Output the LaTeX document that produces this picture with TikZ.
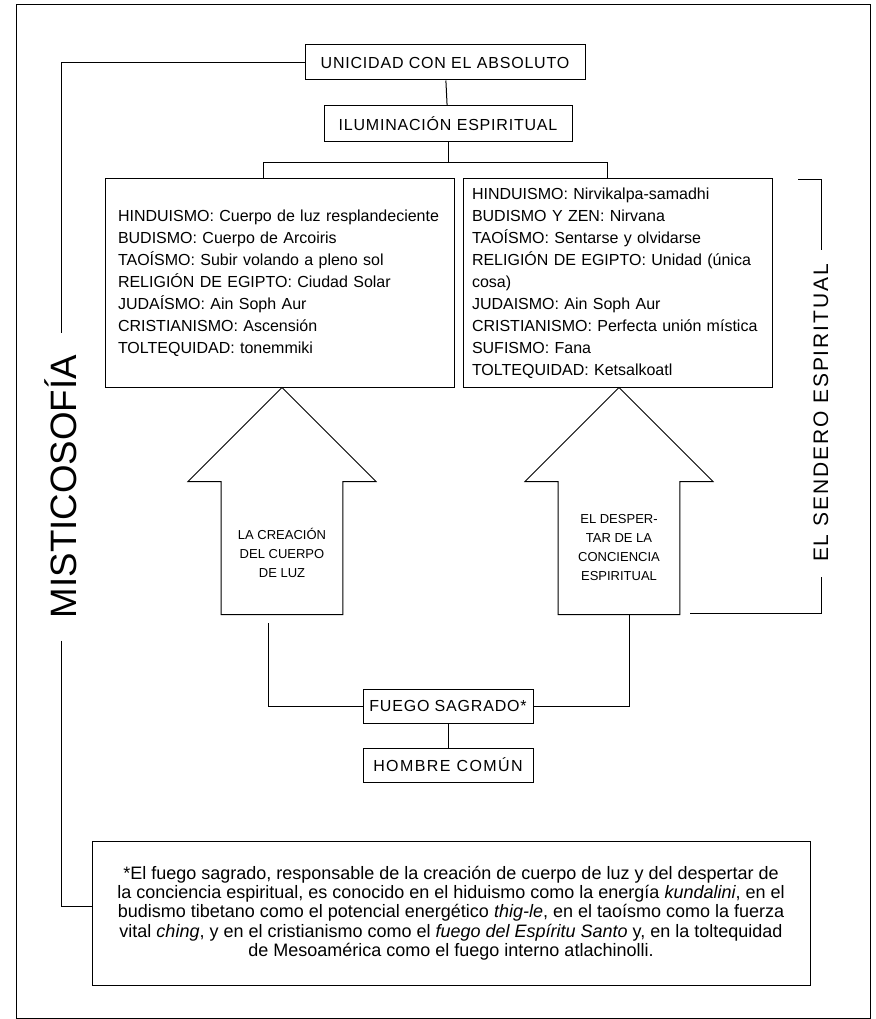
\documentclass[tikz,border=0pt]{standalone}
\usepackage{fontspec}
\setmainfont{Liberation Sans}
\newfontfamily\spacedfont[LetterSpace=5]{Liberation Sans}
\newfontfamily\widefont[LetterSpace=9]{Liberation Sans}
\usepackage{tikz}
\usetikzlibrary{shapes,arrows,positioning}

\begin{document}
\begin{tikzpicture}[x=1pt,y=-1pt,line width=1pt]
\tikzset{font={\fontsize{16}{22}\selectfont}}
\tikzset{titlebox/.style={draw,minimum height=35,inner sep=0pt,font={\spacedfont\fontsize{16}{19}\selectfont}}}
\tikzset{listbox/.style={draw,align=left,minimum height=208,inner ysep=0pt}}
\tikzset{upshape/.style={single arrow,draw,shape border rotate=90,single arrow head extend=32.5,
  minimum width=188,minimum height=227,inner sep=2pt}}
\tikzset{arrowtext/.style={align=center,inner sep=0pt,font={\fontsize{13}{19}\selectfont}}}
\tikzset{sidelabel/.style={rotate=90,inner sep=0pt}}
\useasboundingbox (0,0) rectangle (875,1019);
%Frame
\draw (16,5) rectangle (870,1018);

%Top
\node[titlebox,minimum width=280] (unidad) at (445,62.5) {UNICIDAD CON EL ABSOLUTO};
\node[titlebox,minimum width=248,minimum height=36] (ilum) at (448,124) {ILUMINACIÓN ESPIRITUAL};
\draw (unidad) -- (ilum);

%Lists
\node[listbox,minimum width=349,text width=323,inner xsep=13pt] (cuerpo) at (279.5,283) {HINDUISMO: Cuerpo de luz resplandeciente\\
BUDISMO: Cuerpo de Arcoiris\\
TAOÍSMO: Subir volando a pleno sol\\
RELIGIÓN DE EGIPTO: Ciudad Solar\\
JUDAÍSMO: Ain Soph Aur\\
CRISTIANISMO: Ascensión\\
TOLTEQUIDAD: tonemmiki};
\node[listbox,minimum width=309,text width=291,inner xsep=9pt] (union) at (617.5,283) {HINDUISMO: Nirvikalpa-samadhi\\
BUDISMO Y ZEN: Nirvana\\
TAOÍSMO: Sentarse y olvidarse\\
RELIGIÓN DE EGIPTO: Unidad (única\\
cosa)\\
JUDAISMO: Ain Soph Aur\\
CRISTIANISMO: Perfecta unión mística\\
SUFISMO: Fana\\
TOLTEQUIDAD: Ketsalkoatl};
\draw (ilum.south) -- ++(0,20) coordinate (fork);
\draw ([xshift=-16pt]cuerpo.north) |- (fork) -| ([xshift=-10pt]union.north);

%Arrows
\node[upshape,anchor=tail] (creacion) at (282,615) {\hspace*{114pt}};
\node[arrowtext] (creaciontxt) at (282,553) {LA CREACIÓN\\DEL CUERPO\\DE LUZ};
\node[upshape,anchor=tail] (despertar) at (619,615) {\hspace*{114pt}};
\node[arrowtext] (despertartxt) at (619,548) {EL DESPER-\\TAR DE LA\\CONCIENCIA\\ESPIRITUAL};

%Bottom
\node[titlebox,minimum width=170,minimum height=34] (fuego) at (448,706) {FUEGO SAGRADO*};
\node[titlebox,minimum width=170,minimum height=34,font={\widefont\fontsize{16}{19}\selectfont}] (hombre) at (448,765) {HOMBRE COMÚN};
\draw (fuego) -- (hombre);
\draw ([shift={(-14,8)}]creacion.tail) |- (fuego.west);
\draw (fuego.east) -| ([xshift=10pt]despertar.tail);

%Footnote
\node[draw,minimum width=718,minimum height=144,align=center,font={\fontsize{18}{19.3}\selectfont}] (nota) at (451,913) {*El fuego sagrado, responsable de la creación de cuerpo de luz y del despertar de\\
la conciencia espiritual, es conocido en el hiduismo como la energía \textit{kundalini}, en el\\
budismo tibetano como el potencial energético \textit{thig-le}, en el taoísmo como la fuerza\\
vital \textit{ching}, y en el cristianismo como el \textit{fuego del Espíritu Santo} y, en la toltequidad\\
de Mesoamérica como el fuego interno atlachinolli.};

%Side labels
\node[sidelabel,minimum width=307,font={\fontsize{36.7}{40}\selectfont}] (misti) at (61,486.5) {MISTICOSOFÍA};
\draw (unidad.west) -| (misti.east);
\draw (misti.west) |- ([yshift=7pt]nota.west);
\node[sidelabel,minimum width=326,font={\widefont\fontsize{21}{24}\selectfont}] (sendero) at (821,413) {EL SENDERO ESPIRITUAL};
\coordinate (sendtop) at (798,180);
\coordinate (sendfoot) at (690,613);
\draw (sendtop) -| (sendero.east);
\draw (sendfoot) -| (sendero.west);

\end{tikzpicture}
\end{document}
